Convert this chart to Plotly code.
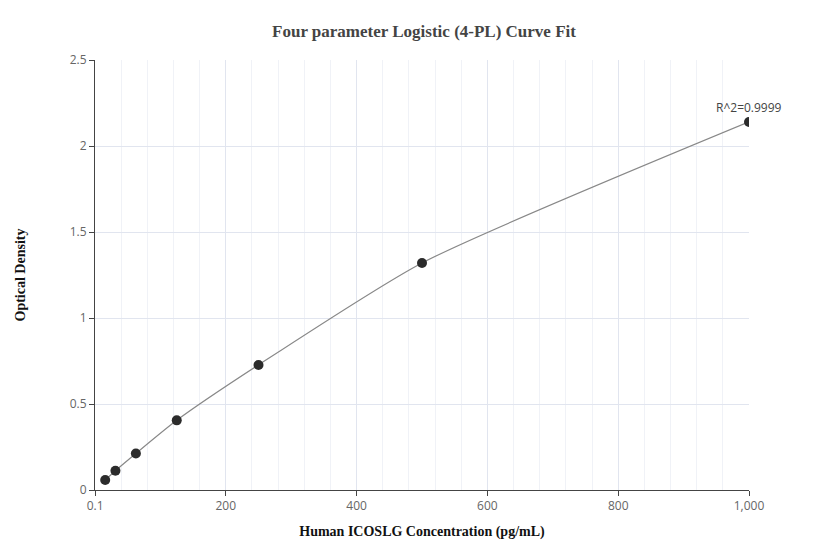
import plotly.graph_objects as go

conc = [15.6, 31.25, 62.5, 125, 250, 500, 1000]
od = [0.058, 0.112, 0.212, 0.405, 0.727, 1.32, 2.14]
x_ticks = [0.1, 200, 400, 600, 800, 1000]
x_tick_labels = ["0.1", "200", "400", "600", "800", "1,000"]
y_ticks = [0, 0.5, 1, 1.5, 2, 2.5]
y_tick_labels = ["0", "0.5", "1", "1.5", "2", "2.5"]

fig = go.Figure()
fig.add_trace(go.Scatter(x=conc, y=od, mode="lines", line=dict(color="#888888", width=1.2, shape="spline", smoothing=0.6), hoverinfo="skip"))
fig.add_trace(go.Scatter(x=conc, y=od, mode="markers", marker=dict(color="#2b2b2b", size=10)))
fig.add_annotation(x=conc[-1], y=od[-1], text="R^2=0.9999", showarrow=False, yshift=14, xanchor="center",
                   font=dict(family="Open Sans", size=12, color="#444"))
fig.update_layout(
    width=832, height=560, showlegend=False, plot_bgcolor="white", paper_bgcolor="white",
    margin=dict(l=75, r=91, t=52, b=78),
    title=dict(text="<b>Four parameter Logistic (4-PL) Curve Fit</b>", x=0.5, y=0.97, yanchor="top", xanchor="center",
               font=dict(family="Times New Roman, Liberation Serif", size=17, color="#444")),
    xaxis=dict(range=[0, 1000], tickvals=x_ticks, ticktext=x_tick_labels, showline=True, linecolor="#444",
               ticks="outside", ticklen=5, tickcolor="#444", gridcolor="#e1e5ef", zeroline=False,
               minor=dict(dtick=40, tick0=0, showgrid=True, gridcolor="#f0f2f7"),
               tickfont=dict(family="Open Sans", size=12, color="#666"),
               title=dict(text="<b>Human ICOSLG Concentration (pg/mL)</b>", standoff=12,
                          font=dict(family="Times New Roman, Liberation Serif", size=14, color="#111"))),
    yaxis=dict(range=[0, 2.5], tickvals=y_ticks, ticktext=y_tick_labels, showline=True, linecolor="#444",
               ticks="outside", ticklen=5, tickcolor="#444", gridcolor="#e1e5ef", zeroline=False,
               tickfont=dict(family="Open Sans", size=12, color="#666"),
               title=dict(text="<b>Optical Density</b>", standoff=40,
                          font=dict(family="Times New Roman, Liberation Serif", size=14, color="#111"))),
)
fig.write_html("out.html")
